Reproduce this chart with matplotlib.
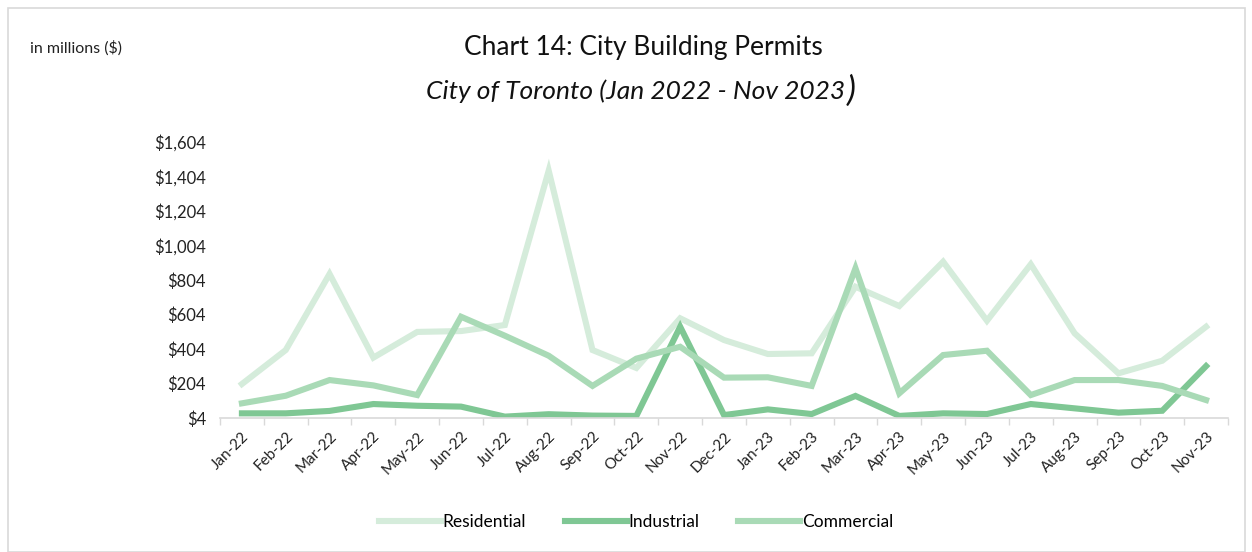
import matplotlib
matplotlib.use("Agg")
import matplotlib.pyplot as plt
from matplotlib.patches import Rectangle
from matplotlib.ticker import FixedLocator

months = ["Jan-22", "Feb-22", "Mar-22", "Apr-22", "May-22", "Jun-22", "Jul-22",
          "Aug-22", "Sep-22", "Oct-22", "Nov-22", "Dec-22", "Jan-23", "Feb-23",
          "Mar-23", "Apr-23", "May-23", "Jun-23", "Jul-23", "Aug-23", "Sep-23",
          "Oct-23", "Nov-23"]
residential = [201, 398, 839, 354, 503, 508, 543, 1438, 398, 294, 582, 456,
               375, 379, 765, 653, 910, 568, 895, 495, 263, 336, 533]
industrial = [31, 31, 45, 85, 75, 70, 12, 26, 18, 16, 533, 21,
              54, 27, 132, 16, 31, 27, 85, 60, 35, 46, 305]
commercial = [89, 133, 224, 193, 137, 591, 481, 365, 190, 348, 417, 238,
              240, 190, 872, 147, 369, 394, 137, 224, 224, 190, 108]
yticks = [4, 204, 404, 604, 804, 1004, 1204, 1404, 1604]
ytick_labels = ["$4", "$204", "$404", "$604", "$804", "$1,004", "$1,204", "$1,404", "$1,604"]

plt.rcParams['font.family'] = ['Lato', 'DejaVu Sans']

fig = plt.figure(figsize=(12.52, 5.52), dpi=100)
fig.patches.append(Rectangle((8/1252, 0), (1245-8)/1252, 1-8/552, transform=fig.transFigure,
                             fill=False, edgecolor="#d9d9d9", linewidth=1.2))

ax = fig.add_axes([220/1252, 1-418/552, (1228-220)/1252, (418-142)/552])
x = list(range(len(months)))
lw = 4.4
ax.plot(x, residential, color="#d5ecdb", lw=lw, label="Residential", solid_joinstyle="miter")
ax.plot(x, industrial, color="#7fc794", lw=lw, label="Industrial", solid_joinstyle="miter")
ax.plot(x, commercial, color="#a9dab6", lw=lw, label="Commercial", solid_joinstyle="miter")

ax.set_xlim(-0.5, len(months) - 0.5)
ax.set_ylim(4, 1604)
ax.set_yticks(yticks)
ax.set_yticklabels(ytick_labels, fontsize=12, color="#222222")
ax.set_xticks(x)
ax.set_xticklabels(months, rotation=45, ha="right", rotation_mode="anchor", fontsize=11, color="#222222")
ax.tick_params(axis="x", which="major", length=0, pad=8)
ax.tick_params(axis="y", length=0, pad=10)
ax.xaxis.set_minor_locator(FixedLocator([i - 0.5 for i in range(len(months) + 1)]))
ax.tick_params(axis="x", which="minor", length=5, color="#d9d9d9", width=1)
for s in ["top", "right", "left"]:
    ax.spines[s].set_visible(False)
ax.spines["bottom"].set_color("#d9d9d9")
ax.spines["bottom"].set_linewidth(1.2)

fig.text(30/1252, 1-48/552, "in millions ($)", fontsize=11.5, va="center", ha="left", color="#222222")
fig.text(643/1252, 1-47/552, "Chart 14: City Building Permits", fontsize=19, ha="center", va="center", color="#111111")
t = fig.text(636/1252, 1-91/552, "City of Toronto (Jan 2022 - Nov 2023", fontsize=19, style="italic",
             ha="center", va="center", color="#111111")
fig.canvas.draw()
ax.annotate(")", xy=(1, 0.5), xycoords=t, xytext=(1, 0), textcoords="offset points",
            fontsize=25, style="italic", ha="left", va="center", color="#111111")

leg = fig.legend(loc="center", bbox_to_anchor=(636/1252, 1-522/552), ncol=3, frameon=False,
                 fontsize=12.5, handlelength=3.6, columnspacing=2.2, handletextpad=0.1)

fig.savefig("out.png", dpi=100)
